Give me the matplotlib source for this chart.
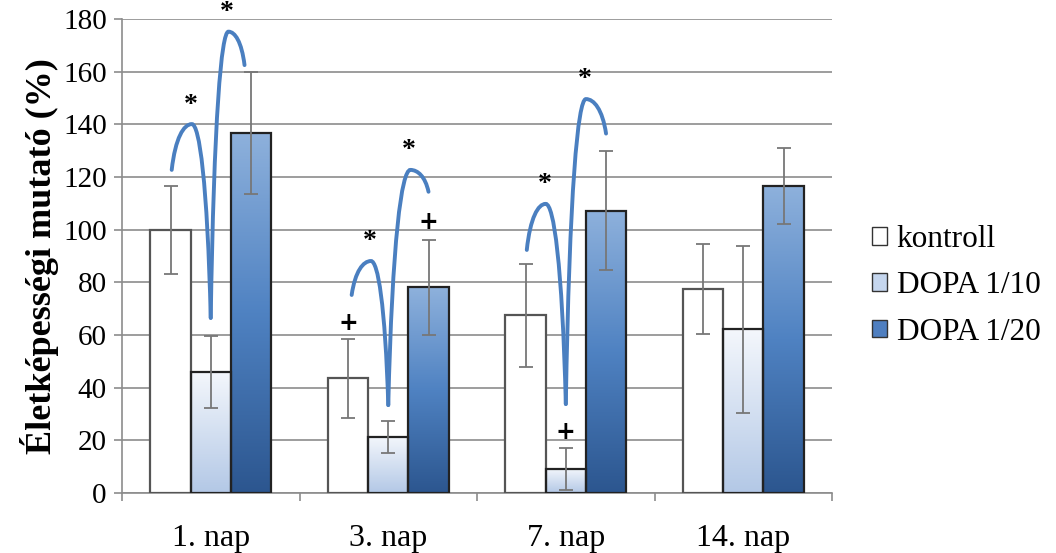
import numpy as np
import matplotlib
matplotlib.use("Agg")
import matplotlib.pyplot as plt
from matplotlib.patches import Rectangle, PathPatch, Patch
from matplotlib.path import Path
from matplotlib.colors import LinearSegmentedColormap

categories = ["1. nap", "3. nap", "7. nap", "14. nap"]
series = ["kontroll", "DOPA 1/10", "DOPA 1/20"]
kontroll = [100, 43.5, 67.5, 77.5]
kontroll_err = [16.7, 15, 19.5, 17]
dopa10 = [46, 21.3, 9.2, 62.2]
dopa10_err = [13.8, 6.2, 8.0, 31.7]
dopa20 = [136.8, 78.1, 107.1, 116.6]
dopa20_err = [23.2, 18.0, 22.6, 14.6]
yticks = [0, 20, 40, 60, 80, 100, 120, 140, 160, 180]
ylabel = "Életképességi mutató (%)"

# significance arcs: (group, x_start, y_start, x_peak, y_peak, x_end, y_end) ; x in bar-width units from group centre
arcs = [
    (0, -0.97, 122.7, -0.47, 140.1, 0.0, 66.5),
    (0, 0.0, 66.5, 0.44, 175.2, 0.84, 162.5),
    (1, -0.91, 75.2, -0.43, 88.1, 0.0, 33.4),
    (1, 0.0, 33.4, 0.55, 122.7, 1.0, 114.4),
    (2, -0.97, 92.3, -0.5, 109.8, 0.0, 33.8),
    (2, 0.0, 33.8, 0.5, 149.6, 1.0, 136.5),
]
# plus signs: (group, x offset in bar widths, y)
plus_marks = [(1, -1.0, 64.7), (1, 1.0, 103.0), (2, 0.0, 23.3)]

values = [kontroll, dopa10, dopa20]
errors = [kontroll_err, dopa10_err, dopa20_err]

fig = plt.figure(figsize=(10.56, 5.53), dpi=100)
ax = fig.add_axes([0.1155, 0.1085, 0.788 - 0.1155, 0.9656 - 0.1085])
serif = ["Liberation Serif", "DejaVu Serif"]

ngroups = len(categories)
x = np.arange(ngroups)
w = 0.2266

cmap10 = LinearSegmentedColormap.from_list("c10", ["#b3c8e6", "#f4f7fc"])
cmap20 = LinearSegmentedColormap.from_list("c20", ["#2c568f", "#4f82c2", "#8eb1dc"])
grad = np.linspace(0, 1, 256).reshape(-1, 1)

edgecols = ["#555555", "#222222", "#222222"]
for si in range(3):
    for gi in range(ngroups):
        xc = x[gi] + (si - 1) * w
        h = values[si][gi]
        rect = Rectangle((xc - w / 2, 0), w, h, facecolor="white" if si == 0 else "none",
                         edgecolor=edgecols[si], linewidth=1.6, zorder=3)
        ax.add_patch(rect)
        if si > 0:
            cm = cmap10 if si == 1 else cmap20
            im = ax.imshow(grad, cmap=cm, aspect="auto", origin="lower",
                           extent=(xc - w / 2, xc + w / 2, 0, h), zorder=2.5)
            im.set_clip_path(rect)
        ax.errorbar(xc, h, yerr=errors[si][gi], fmt="none", ecolor="#777777",
                    elinewidth=1.3, capsize=5, capthick=1.3, zorder=4)

arc_col = "#4a7fc0"
for g, xs, ys, xp, yp, xe, ye in arcs:
    x0 = x[g] + xs * w
    x1 = x[g] + xp * w
    x2 = x[g] + xe * w
    d1 = x1 - x0
    d2 = x2 - x1
    verts = [
        (x0, ys),
        (x0 + 0.18 * d1, ys + 0.7 * (yp - ys)),
        (x1 - 0.4 * d1, yp),
        (x1, yp),
        (x1 + 0.4 * d2, yp),
        (x2 - 0.18 * d2, ye + 0.7 * (yp - ye)),
        (x2, ye),
    ]
    codes = [Path.MOVETO] + [Path.CURVE4] * 6
    ax.add_patch(PathPatch(Path(verts, codes), facecolor="none", edgecolor=arc_col,
                           linewidth=2.8, capstyle="round", zorder=5))
    ax.text(x1 - 0.03 * w, yp + 2.5, "*", ha="center", va="bottom", fontsize=20,
            fontweight="bold", family=serif, color="black", zorder=6)

for g, off, yv in plus_marks:
    ax.text(x[g] + off * w, yv, "+", ha="center", va="center", fontsize=17,
            fontweight="bold", family=["DejaVu Sans"], color="black", zorder=6)

ax.set_xlim(-0.5, ngroups - 0.5)
ax.set_ylim(0, 180)
ax.set_yticks(yticks)
ax.set_yticklabels([str(t) for t in yticks], family=serif, fontsize=21)
ax.yaxis.grid(True, color="#8c8c8c", linewidth=1.2, zorder=0)
ax.set_axisbelow(True)
ax.set_xticks(x)
ax.set_xticklabels(categories, family=serif, fontsize=23)
ax.tick_params(axis="x", length=0, pad=22)
ax.set_xticks(np.arange(ngroups + 1) - 0.5, minor=True)
ax.tick_params(axis="x", which="minor", length=6, color="#8c8c8c", width=1.2)
ax.tick_params(axis="y", length=6, color="#8c8c8c", width=1.2, pad=5)
for s in ["top", "right"]:
    ax.spines[s].set_visible(False)
for s in ["left", "bottom"]:
    ax.spines[s].set_color("#8c8c8c")
    ax.spines[s].set_linewidth(1.2)
ax.set_ylabel(ylabel, family=serif, fontsize=26, fontweight="bold", labelpad=3)

handles = [
    Patch(facecolor="white", edgecolor="#333333", linewidth=1.0),
    Patch(facecolor="#c5d6ee", edgecolor="#333333", linewidth=1.0),
    Patch(facecolor="#4f7fc0", edgecolor="#333333", linewidth=1.0),
]
leg = fig.legend(handles, series, loc="center left", bbox_to_anchor=(0.799, 0.483),
                 frameon=False, prop={"family": serif, "size": 22.5},
                 handlelength=0.5, handleheight=0.5, handletextpad=0.3, labelspacing=0.55)

fig.savefig("out.png", dpi=100)
